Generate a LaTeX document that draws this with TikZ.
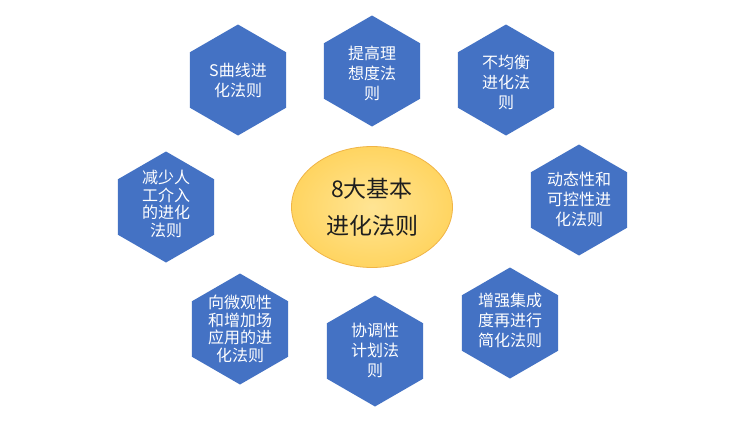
\documentclass[tikz,border=0pt]{standalone}
\usepackage{fontspec}
\setmainfont{Noto Sans CJK SC}
\usetikzlibrary{shapes.geometric}
\definecolor{hexblue}{RGB}{68,114,196}
\definecolor{ellfill}{RGB}{255,217,102}
\definecolor{ellline}{RGB}{240,180,70}
\definecolor{darktext}{RGB}{30,30,30}
\tikzset{
  hexa/.style={regular polygon, regular polygon sides=6, shape border rotate=30,
    minimum size=111pt, inner sep=0pt, fill=hexblue, draw=none},
  hextext/.style={text=white, align=center, inner sep=0pt, font=\fontsize{16}{20}\selectfont},
  hextextfour/.style={hextext, font=\fontsize{16}{17.6}\selectfont},
  centerell/.style={ellipse, minimum width=161pt, minimum height=121pt, inner sep=0pt,
    inner color=ellfill!70!white, outer color=ellfill!95!orange, draw=ellline, line width=0.8pt},
  centertext/.style={text=darktext, align=center, inner sep=0pt, font=\fontsize{23}{37}\selectfont}
}
\begin{document}
\begin{tikzpicture}[x=1pt,y=-1pt]
\useasboundingbox (0,0) rectangle (736,439);
\fill[white] (0,0) rectangle (736,439);
% hexagons
\node[hexa] (h1) at (238,80) {};
\node[hextext] (t1) at (h1) {S曲线进\\化法则};
\node[hexa] (h2) at (372,71) {};
\node[hextext] (t2) at (372,73) {提高理\\想度法\\则};
\node[hexa] (h3) at (506,80) {};
\node[hextext] (t3) at (506,82) {不均衡\\进化法\\则};
\node[hexa] (h4) at (579,200) {};
\node[hextext] (t4) at (579,199) {动态性和\\可控性进\\化法则};
\node[hexa] (h5) at (510,323) {};
\node[hextext] (t5) at (510,320) {增强集成\\度再进行\\简化法则};
\node[hexa] (h6) at (375,351) {};
\node[hextext] (t6) at (375,350) {协调性\\计划法\\则};
\node[hexa] (h7) at (240,329) {};
\node[hextextfour] (t7) at (240,329) {向微观性\\和增加场\\应用的进\\化法则};
\node[hexa] (h8) at (166,207) {};
\node[hextextfour] (t8) at (166,204) {减少人\\工介入\\的进化\\法则};
% centre
\node[centerell] (c) at (372,207) {};
\node[centertext] (ct) at (372,207) {8大基本\\进化法则};
\end{tikzpicture}
\end{document}
